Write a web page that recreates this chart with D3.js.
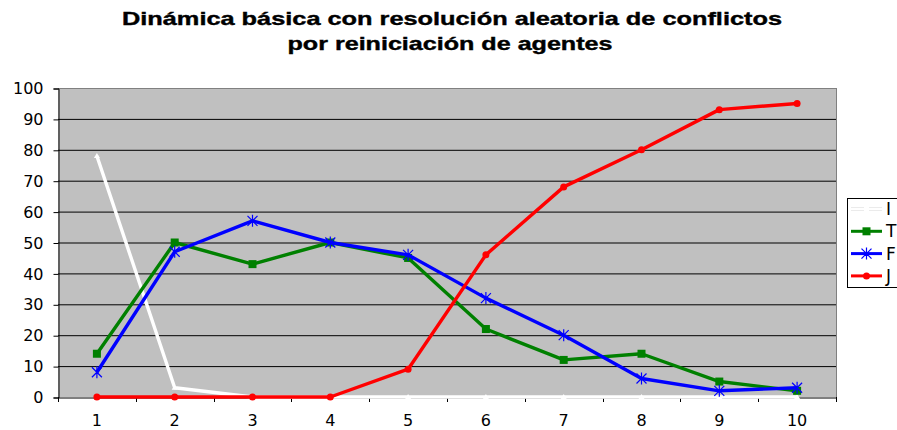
<!DOCTYPE html>
<html>
<head>
<meta charset="utf-8">
<script src="https://cdn.jsdelivr.net/npm/d3@7"></script>
<style>
  body { margin: 0; background: #fff; overflow: hidden; }
  text { font-family: "DejaVu Sans", Arial, sans-serif; }
</style>
</head>
<body>
<div id="chart"></div>
<script>
var width = 897;
var height = 430;

var categories = ["1", "2", "3", "4", "5", "6", "7", "8", "9", "10"];
var seriesI = [78, 3, 0, 0, 0, 0, 0, 0, 0, 0];
var seriesT = [14, 50, 43, 50, 45, 22, 12, 14, 5, 2];
var seriesF = [8, 47, 57, 50, 46, 32, 20, 6, 2, 3];
var seriesJ = [0, 0, 0, 0, 9, 46, 68, 80, 93, 95];
var yTicks = [0, 10, 20, 30, 40, 50, 60, 70, 80, 90, 100];

var series = [
    {name: "I", values: seriesI, color: "#ffffff", marker: "triangle"},
    {name: "T", values: seriesT, color: "#008000", marker: "square"},
    {name: "F", values: seriesF, color: "#0000ff", marker: "star"},
    {name: "J", values: seriesJ, color: "#ff0000", marker: "circle"}
];

var plot = {left: 58, right: 836, top: 88, bottom: 397};
var fontFam = "'DejaVu Sans', Arial, sans-serif";

var svg = d3.select("#chart").append("svg")
    .attr("width", width)
    .attr("height", height);

var x = d3.scaleBand().domain(categories).range([plot.left, plot.right]);
var y = d3.scaleLinear().domain([0, 100]).range([plot.bottom, plot.top]);

// title (wide sans bold, stretched like the original)
svg.append("text")
    .attr("x", 452).attr("y", 25)
    .attr("text-anchor", "middle")
    .attr("textLength", 660).attr("lengthAdjust", "spacingAndGlyphs")
    .style("font-family", "'Liberation Sans', Arial, sans-serif")
    .style("font-size", "19px").style("font-weight", "bold")
    .attr("stroke", "#000").attr("stroke-width", 0.4)
    .text("Dinámica básica con resolución aleatoria de conflictos");
svg.append("text")
    .attr("x", 450).attr("y", 50)
    .attr("text-anchor", "middle")
    .attr("textLength", 325).attr("lengthAdjust", "spacingAndGlyphs")
    .style("font-family", "'Liberation Sans', Arial, sans-serif")
    .style("font-size", "19px").style("font-weight", "bold")
    .attr("stroke", "#000").attr("stroke-width", 0.4)
    .text("por reiniciación de agentes");

// plot background
svg.append("rect")
    .attr("x", plot.left).attr("y", plot.top)
    .attr("width", plot.right - plot.left)
    .attr("height", plot.bottom - plot.top)
    .attr("fill", "#c0c0c0");

// gridlines
svg.selectAll(".grid")
    .data(yTicks.filter(d => d > 0 && d < 100))
    .enter().append("line")
    .attr("x1", plot.left).attr("x2", plot.right)
    .attr("y1", d => y(d) + 0.5).attr("y2", d => y(d) + 0.5)
    .attr("stroke", "#000").attr("stroke-width", 1);

// top and right border
svg.append("line")
    .attr("x1", plot.left).attr("x2", plot.right)
    .attr("y1", plot.top + 0.5).attr("y2", plot.top + 0.5)
    .attr("stroke", "#808080");
svg.append("line")
    .attr("x1", plot.right + 0.5).attr("x2", plot.right + 0.5)
    .attr("y1", plot.top).attr("y2", plot.bottom)
    .attr("stroke", "#808080");

// y axis
var yAxis = d3.axisLeft(y).tickValues(yTicks).tickSize(5).tickPadding(10);
var gy = svg.append("g")
    .attr("transform", "translate(" + (plot.left + 0.5) + ",0.5)")
    .call(yAxis);
gy.select(".domain").attr("stroke", "#000");
gy.selectAll(".tick line").attr("stroke", "#000");
gy.selectAll("text").style("font-size", "16px").attr("fill", "#000")
    .style("font-family", fontFam);

// x axis
var xAxis = d3.axisBottom(x).tickSize(0).tickPadding(17);
var gx = svg.append("g")
    .attr("transform", "translate(0," + (plot.bottom + 0.5) + ")")
    .call(xAxis);
gx.select(".domain").attr("stroke", "#000");
gx.selectAll("text").style("font-size", "16px").attr("fill", "#000")
    .style("font-family", fontFam);
// x ticks between categories
svg.selectAll(".xtick")
    .data(categories.concat([null]))
    .enter().append("line")
    .attr("x1", (d, i) => Math.round(plot.left + i * x.step()) + 0.5)
    .attr("x2", (d, i) => Math.round(plot.left + i * x.step()) + 0.5)
    .attr("y1", plot.bottom).attr("y2", plot.bottom + 5)
    .attr("stroke", "#000");

var cx = d => x(d) + x.bandwidth() / 2;

function drawMarker(g, type, px, py, color) {
    if (type === "square") {
        g.append("rect").attr("x", px - 4).attr("y", py - 4)
            .attr("width", 8).attr("height", 8).attr("fill", color);
    } else if (type === "circle") {
        g.append("circle").attr("cx", px).attr("cy", py).attr("r", 3.5).attr("fill", color);
    } else if (type === "triangle") {
        g.append("path")
            .attr("d", "M" + px + "," + (py - 3) + "L" + (px + 3) + "," + (py + 2) + "L" + (px - 3) + "," + (py + 2) + "Z")
            .attr("fill", color);
    } else if (type === "star") {
        g.append("path")
            .attr("d", "M" + (px - 5) + "," + (py - 5) + "L" + (px + 5) + "," + (py + 5) +
                "M" + (px + 5) + "," + (py - 5) + "L" + (px - 5) + "," + (py + 5) +
                "M" + px + "," + (py - 6) + "L" + px + "," + (py + 6))
            .attr("stroke", color).attr("stroke-width", 1.2).attr("fill", "none");
    }
}

var line = d3.line()
    .x((d, i) => cx(categories[i]))
    .y(d => y(d));

series.forEach(function(s) {
    var g = svg.append("g");
    g.append("path")
        .attr("d", line(s.values))
        .attr("fill", "none")
        .attr("stroke", s.color)
        .attr("stroke-width", 3.4)
        .attr("stroke-linejoin", "round");
    s.values.forEach(function(v, i) {
        drawMarker(g, s.marker, cx(categories[i]), y(v), s.color);
    });
});

// legend
var legend = svg.append("g");
legend.append("rect")
    .attr("x", 847.5).attr("y", 198.5)
    .attr("width", 80).attr("height", 89)
    .attr("fill", "#fff").attr("stroke", "#000");
series.forEach(function(s, i) {
    var ly = 209 + i * 22.3;
    var lg = legend.append("g");
    if (s.marker === "triangle") {
        lg.append("line")
            .attr("x1", 851).attr("x2", 882)
            .attr("y1", ly).attr("y2", ly)
            .attr("stroke", "#d8d8d8").attr("stroke-width", 4);
    }
    lg.append("line")
        .attr("x1", 851).attr("x2", 882)
        .attr("y1", ly).attr("y2", ly)
        .attr("stroke", s.color).attr("stroke-width", 3);
    if (s.marker === "triangle") {
        lg.append("rect").attr("x", 864).attr("y", ly - 4).attr("width", 5).attr("height", 6)
            .attr("fill", "#fff");
    } else {
        drawMarker(lg, s.marker, 866.5, ly, s.color);
    }
    lg.append("text")
        .attr("x", 886).attr("y", ly + 6)
        .style("font-size", "17px")
        .text(s.name);
});
</script>
</body>
</html>
